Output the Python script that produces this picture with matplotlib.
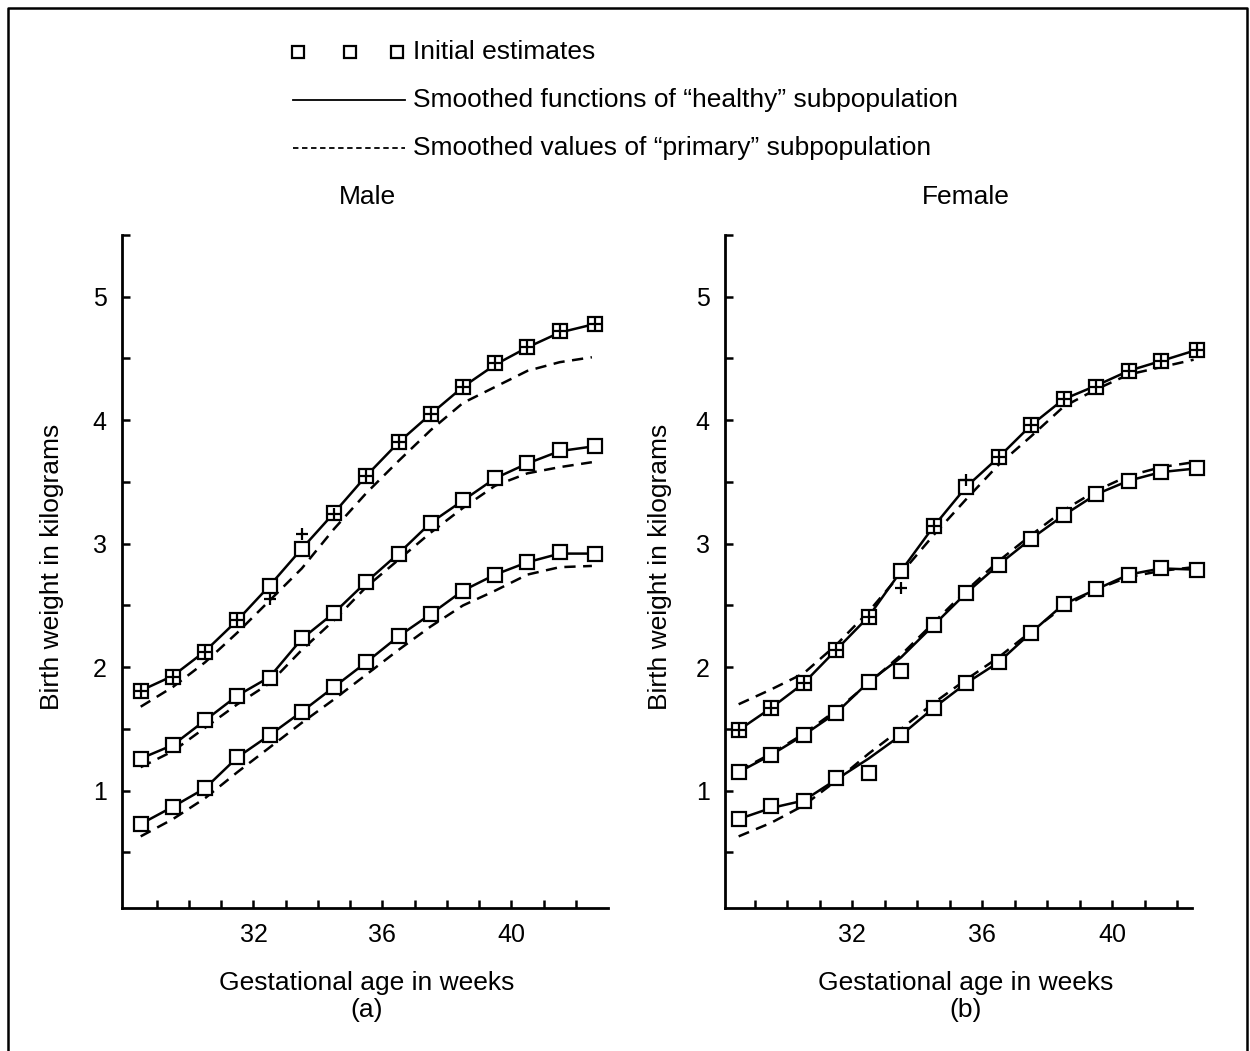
import matplotlib
matplotlib.use("Agg")
import matplotlib.pyplot as plt
from matplotlib.lines import Line2D
from matplotlib.ticker import MultipleLocator, FixedLocator

plt.rcParams['font.family'] = ['Liberation Sans', 'DejaVu Sans']

# ---------------- data ----------------
weeks = [28.5, 29.5, 30.5, 31.5, 32.5, 33.5, 34.5, 35.5, 36.5, 37.5, 38.5, 39.5, 40.5, 41.5, 42.6]

# Male (a)
male_est_top = [1.81, 1.92, 2.12, 2.38, 2.66, 2.96, 3.25, 3.55, 3.82, 4.05, 4.27, 4.46, 4.59, 4.72, 4.78]
male_plus_top = [1.81, 1.92, 2.12, 2.38, 2.55, 3.08, 3.24, 3.55, 3.82, 4.05, 4.27, 4.46, 4.59, 4.72, 4.78]
male_healthy_top = [1.81, 1.93, 2.13, 2.38, 2.66, 2.96, 3.25, 3.55, 3.82, 4.05, 4.27, 4.45, 4.59, 4.71, 4.78]
male_primary_top = [1.68, 1.84, 2.04, 2.28, 2.54, 2.80, 3.12, 3.41, 3.67, 3.92, 4.14, 4.27, 4.40, 4.47, 4.51]

male_est_mid = [1.26, 1.37, 1.57, 1.77, 1.91, 2.24, 2.44, 2.69, 2.92, 3.17, 3.35, 3.53, 3.65, 3.76, 3.79]
male_healthy_mid = [1.26, 1.37, 1.57, 1.77, 1.92, 2.23, 2.44, 2.69, 2.92, 3.17, 3.35, 3.53, 3.65, 3.75, 3.79]
male_primary_mid = [1.19, 1.32, 1.51, 1.70, 1.87, 2.14, 2.38, 2.65, 2.87, 3.09, 3.29, 3.47, 3.57, 3.62, 3.66]

male_est_bot = [0.73, 0.87, 1.02, 1.27, 1.45, 1.64, 1.84, 2.04, 2.25, 2.43, 2.62, 2.75, 2.85, 2.93, 2.92]
male_healthy_bot = [0.73, 0.87, 1.02, 1.27, 1.45, 1.64, 1.84, 2.04, 2.25, 2.43, 2.62, 2.75, 2.85, 2.92, 2.92]
male_primary_bot = [0.63, 0.77, 0.94, 1.15, 1.35, 1.55, 1.74, 1.94, 2.14, 2.33, 2.50, 2.62, 2.75, 2.81, 2.82]

# Female (b)
fem_est_top = [1.49, 1.67, 1.87, 2.14, 2.41, 2.78, 3.14, 3.46, 3.70, 3.96, 4.17, 4.27, 4.40, 4.48, 4.57]
fem_plus_top = [1.49, 1.67, 1.87, 2.14, 2.41, 2.64, 3.14, 3.52, 3.70, 3.96, 4.17, 4.27, 4.40, 4.48, 4.57]
fem_healthy_top = [1.49, 1.67, 1.87, 2.14, 2.41, 2.78, 3.14, 3.46, 3.70, 3.96, 4.17, 4.28, 4.40, 4.48, 4.57]
fem_primary_top = [1.70, 1.82, 1.95, 2.18, 2.45, 2.76, 3.07, 3.36, 3.64, 3.87, 4.11, 4.25, 4.37, 4.43, 4.49]

fem_est_mid = [1.15, 1.29, 1.45, 1.63, 1.88, 1.97, 2.34, 2.60, 2.83, 3.04, 3.23, 3.40, 3.51, 3.58, 3.61]
fem_healthy_mid = [1.15, 1.29, 1.45, 1.63, 1.88, 2.08, 2.34, 2.60, 2.83, 3.04, 3.23, 3.40, 3.51, 3.58, 3.61]
fem_primary_mid = [1.16, 1.30, 1.46, 1.65, 1.87, 2.10, 2.36, 2.62, 2.86, 3.07, 3.27, 3.43, 3.55, 3.62, 3.66]

fem_est_bot = [0.77, 0.88, 0.92, 1.10, 1.14, 1.45, 1.67, 1.87, 2.04, 2.28, 2.51, 2.63, 2.75, 2.80, 2.79]
fem_healthy_bot = [0.77, 0.86, 0.92, 1.09, 1.26, 1.45, 1.67, 1.87, 2.04, 2.28, 2.51, 2.63, 2.75, 2.80, 2.79]
fem_primary_bot = [0.63, 0.74, 0.88, 1.08, 1.30, 1.50, 1.71, 1.90, 2.08, 2.29, 2.49, 2.63, 2.73, 2.78, 2.81]

x_major = [32, 36, 40]
x_minor = list(range(29, 43))
y_major = [1, 2, 3, 4, 5]

legend_labels = ["Initial estimates",
                 "Smoothed functions of \u201chealthy\u201d subpopulation",
                 "Smoothed values of \u201cprimary\u201d subpopulation"]
panel_titles = ["Male", "Female"]
panel_tags = ["(a)", "(b)"]
xlabel = "Gestational age in weeks"
ylabel = "Birth weight in kilograms"

# ---------------- figure ----------------
W, H = 1250, 1051
fig = plt.figure(figsize=(W / 100, H / 100), dpi=100)

def fx(px):
    return px / W

def fy(py):
    return 1 - py / H

LW = 1.8
DASH = (4.5, 3.0)
MS = 10
MEW = 1.6

panels = [
    dict(rect=(122, 235, 608, 908), xlim=(27.92, 43.0),
         est=[male_est_top, male_est_mid, male_est_bot],
         plus=male_plus_top,
         healthy=[male_healthy_top, male_healthy_mid, male_healthy_bot],
         primary=[male_primary_top, male_primary_mid, male_primary_bot],
         title=panel_titles[0], tag=panel_tags[0], cx=367, ylab_x=52),
    dict(rect=(725, 235, 1192, 908), xlim=(28.08, 42.45),
         est=[fem_est_top, fem_est_mid, fem_est_bot],
         plus=fem_plus_top,
         healthy=[fem_healthy_top, fem_healthy_mid, fem_healthy_bot],
         primary=[fem_primary_top, fem_primary_mid, fem_primary_bot],
         title=panel_titles[1], tag=panel_tags[1], cx=966, ylab_x=660),
]

for p in panels:
    l, t, r, b = p['rect']
    ax = fig.add_axes([fx(l), fy(b), (r - l) / W, (b - t) / H])
    ax.set_xlim(*p['xlim'])
    ax.set_ylim(0.05, 5.5)
    for s in ['top', 'right']:
        ax.spines[s].set_visible(False)
    for s in ['left', 'bottom']:
        ax.spines[s].set_linewidth(2.0)
    ax.xaxis.set_major_locator(FixedLocator(x_major))
    ax.xaxis.set_minor_locator(FixedLocator(x_minor))
    ax.yaxis.set_major_locator(FixedLocator(y_major))
    ax.yaxis.set_minor_locator(MultipleLocator(0.5))
    ax.tick_params(which='both', direction='in', length=6, width=1.8)
    ax.tick_params(axis='x', which='major', labelsize=18, pad=11)
    ax.tick_params(axis='y', which='major', labelsize=18, pad=11)

    for prim in p['primary']:
        ax.plot(weeks[:-1] + [42.5], prim, color='black', lw=LW, ls=(0, DASH),
                clip_on=False, zorder=2)
    for hl in p['healthy']:
        ax.plot(weeks, hl, color='black', lw=LW, ls='-', clip_on=False, zorder=3)
    for est in p['est']:
        ax.plot(weeks, est, ls='none', marker='s', ms=MS, mfc='white', mec='black',
                mew=MEW, clip_on=False, zorder=4)
    ax.plot(weeks, p['plus'], ls='none', marker='+', ms=9, mec='black', mew=1.6,
            clip_on=False, zorder=5)

    fig.text(fx(p['cx']), fy(197), p['title'], ha='center', va='center', fontsize=19)
    fig.text(fx(p['cx']), fy(983), xlabel, ha='center', va='center', fontsize=19)
    fig.text(fx(p['cx']), fy(1010), p['tag'], ha='center', va='center', fontsize=19)
    fig.text(fx(p['ylab_x']), fy(567), ylabel, ha='center', va='center',
             rotation=90, fontsize=19)

# ---------------- legend ----------------
for sx in [298, 350, 397]:
    fig.add_artist(Line2D([fx(sx)], [fy(52)], transform=fig.transFigure, ls='none',
                          marker='s', ms=8.5, mfc='white', mec='black', mew=1.6))
fig.add_artist(Line2D([fx(293), fx(405)], [fy(100), fy(100)], transform=fig.transFigure,
                      color='black', lw=1.3))
fig.add_artist(Line2D([fx(293), fx(405)], [fy(148), fy(148)], transform=fig.transFigure,
                      color='black', lw=1.3, ls=(0, (3.0, 2.0))))
for ly, txt in zip([52, 100, 148], legend_labels):
    fig.text(fx(413), fy(ly), txt, ha='left', va='center', fontsize=19)

# ---------------- outer frame ----------------
fig.add_artist(Line2D([fx(8), fx(8), fx(1247), fx(1247)],
                      [fy(1051), fy(8), fy(8), fy(1051)],
                      transform=fig.transFigure, color='black', lw=1.8))

fig.savefig("out.png", dpi=100)
